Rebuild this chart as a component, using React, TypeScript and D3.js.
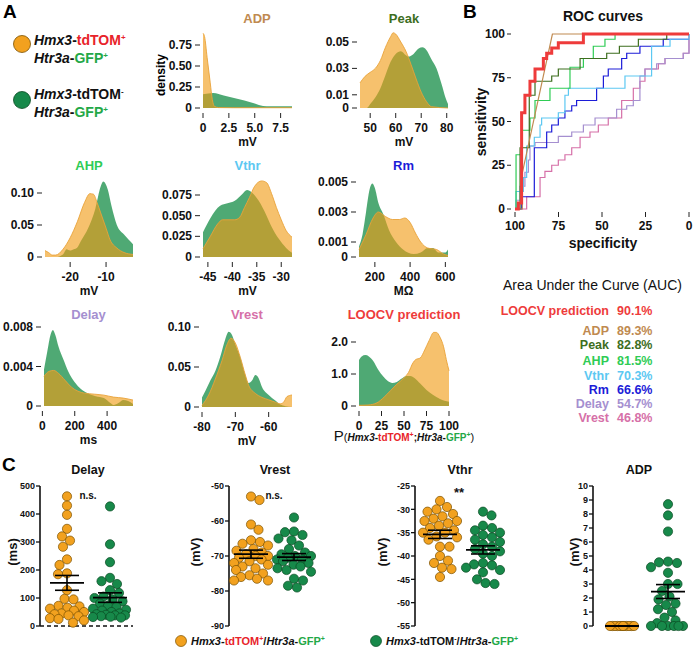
import React from 'react';
import * as d3 from 'd3';

const FONT = "'Liberation Sans', Arial, Helvetica, sans-serif";
const RED = '#e8232a';
const GFP = '#23a847';
const OR_FILL = 'rgb(240,155,20)';
const GR_FILL = 'rgb(40,150,85)';
const DOT_O = '#f2a11f';
const DOT_G = '#17894a';

// ---------- Density data (x grid, density) ----------
const adpOx = [0, 0.15, 0.4, 0.7, 0.9, 1.1, 1.5, 3, 8.6];
const adpOy = [0.89, 0.85, 0.6, 0.3, 0.1, 0.02, 0.005, 0.003, 0.003];
const adpGx = [0, 1, 2, 3, 4, 5, 5.8, 6.5, 8.6];
const adpGy = [0.165, 0.18, 0.15, 0.12, 0.09, 0.055, 0.025, 0.02, 0.02];

const peakOx = [46, 48, 50, 52, 54, 56, 58, 59, 60, 62, 64, 66, 68, 70, 72, 74, 80.5];
const peakOy = [0.019, 0.024, 0.027, 0.03, 0.036, 0.046, 0.054, 0.057, 0.056, 0.05, 0.043, 0.033, 0.022, 0.012, 0.005, 0.001, 0];
const peakGx = [46, 48.7, 50, 52, 54, 56, 58, 60, 62, 64, 65, 67, 69, 70.5, 72, 74, 76, 78, 79.5, 80.5];
const peakGy = [0, 0, 0.003, 0.008, 0.015, 0.025, 0.035, 0.041, 0.043, 0.04, 0.039, 0.041, 0.045, 0.046, 0.044, 0.037, 0.03, 0.018, 0.008, 0.003];

const ahpOx = [-27, -26, -25, -24, -22, -20, -18, -16, -14.5, -13.5, -12.5, -11.5, -10, -8.9, -7, -5, -2.5];
const ahpOy = [0.01, 0.007, 0.003, 0.003, 0.012, 0.03, 0.055, 0.085, 0.099, 0.098, 0.085, 0.069, 0.045, 0.027, 0.014, 0.007, 0.004];
const ahpGx = [-27, -24, -22, -21, -20, -19, -18, -17, -15, -13, -11.5, -10.8, -9.5, -8.5, -7, -5, -2.5];
const ahpGy = [0, 0, 0.004, 0.012, 0.01, 0.012, 0.015, 0.025, 0.045, 0.075, 0.11, 0.118, 0.105, 0.08, 0.05, 0.035, 0.02];

const vthrOx = [-46, -44.5, -43, -42, -39.5, -38.5, -37.5, -36.5, -35.5, -34, -33, -32, -31, -30, -29, -27.8];
const vthrOy = [0.01, 0.025, 0.04, 0.045, 0.045, 0.048, 0.06, 0.072, 0.085, 0.092, 0.09, 0.077, 0.06, 0.045, 0.032, 0.024];
const vthrGx = [-46, -44.5, -42.5, -41, -39.5, -38, -37, -36, -34.6, -33, -32, -30.5, -29, -27.8];
const vthrGy = [0.03, 0.047, 0.062, 0.065, 0.068, 0.076, 0.081, 0.078, 0.068, 0.05, 0.037, 0.022, 0.011, 0.005];

const rmOx = [110, 150, 190, 220, 260, 300, 340, 370, 400, 430, 460, 500, 550, 590, 615];
const rmOy = [0.0005, 0.0015, 0.0026, 0.003, 0.0027, 0.0025, 0.0025, 0.0026, 0.0023, 0.0016, 0.001, 0.0006, 0.0005, 0.0002, 0.0001];
const rmGx = [110, 130, 150, 170, 185, 200, 220, 250, 280, 320, 360, 420, 460, 500, 530, 560, 600, 615];
const rmGy = [0.0007, 0.0015, 0.003, 0.0045, 0.0049, 0.0046, 0.0036, 0.0028, 0.0018, 0.001, 0.0005, 0.0002, 0.0003, 0.0006, 0.0006, 0.0003, 0.0003, 0.0005];

const delOx = [10, 40, 70, 100, 140, 180, 220, 260, 320, 380, 440, 500, 560];
const delOy = [0.003, 0.0035, 0.0036, 0.0033, 0.0026, 0.0019, 0.0015, 0.0013, 0.0012, 0.0011, 0.0009, 0.0008, 0.0006];
const delGx = [10, 30, 50, 65, 80, 100, 130, 160, 200, 240, 280, 330, 380, 420, 440, 470, 500, 530, 560];
const delGy = [0.0037, 0.0055, 0.0072, 0.0077, 0.0072, 0.006, 0.0047, 0.0035, 0.0024, 0.0017, 0.0013, 0.001, 0.0008, 0.0003, 0.0001, 0.0003, 0.0006, 0.0005, 0.0002];

const vrOx = [-80, -78, -76, -74, -72.5, -71.3, -70, -68.5, -67, -66, -64, -62, -60, -58, -56.5, -55.5, -54.5, -53];
const vrOy = [0.002, 0.015, 0.035, 0.058, 0.078, 0.086, 0.08, 0.062, 0.04, 0.027, 0.017, 0.012, 0.009, 0.006, 0.004, 0.006, 0.013, 0.015];
const vrGx = [-80, -79, -77.5, -76, -74.5, -73, -72, -71, -70, -68.5, -67, -66, -65, -64, -63, -62, -60, -58, -56.5, -55, -53];
const vrGy = [0.012, 0.02, 0.033, 0.045, 0.063, 0.085, 0.094, 0.09, 0.078, 0.062, 0.04, 0.03, 0.033, 0.04, 0.036, 0.025, 0.015, 0.008, 0.003, 0.001, 0];

const lcOx = [0, 10, 20, 28, 35, 42, 50, 55, 60, 63, 68, 73, 78, 83, 86, 90, 94, 97, 100];
const lcOy = [0.02, 0.03, 0.1, 0.28, 0.48, 0.68, 0.88, 1.05, 1.35, 1.45, 1.5, 1.75, 2.05, 2.3, 2.3, 2.15, 1.85, 1.45, 1.1];
const lcGx = [0, 3, 7, 11, 16, 21, 27, 32, 37, 42, 47, 53, 57, 62, 68, 75, 82, 90, 100];
const lcGy = [1.44, 1.55, 1.59, 1.55, 1.4, 1.15, 0.92, 0.78, 0.72, 0.75, 0.85, 0.94, 0.94, 0.87, 0.7, 0.5, 0.35, 0.22, 0.13];

// ---------- ROC data (specificity, sensitivity) ----------
const rocLoocvSpec = [100, 98.1, 96.2, 94.3, 91.4, 88.5, 83.7, 81.8, 78.9, 75.1, 60.7, 0];
const rocLoocvSens = [0, 3.4, 55, 65, 73, 80, 86, 89, 92, 95, 100, 100];
const rocAdpSpec = [100, 95.8, 95.8, 78.5, 0];
const rocAdpSens = [0, 0, 20.6, 100, 100];
const rocPeakSpec = [100, 97.1, 91.8, 88.5, 78.9, 75.1, 62.6, 47.3, 40, 29.1, 12.8, 0];
const rocPeakSens = [0, 35, 65, 73, 76, 80, 86, 89, 93, 97, 100, 100];
const rocAhpSpec = [100, 99.4, 96.2, 91.4, 88.5, 79.9, 68.4, 60.7, 55, 48.3, 42.5, 0];
const rocAhpSens = [0, 31, 45, 52, 62, 69, 81, 86, 93, 97, 100, 100];
const rocVthrSpec = [100, 99.4, 95.2, 93.3, 88.9, 85.6, 84.7, 75.1, 71.3, 69.3, 36.8, 21.5, 10.9, 0];
const rocVthrSens = [0, 10, 18, 36, 41, 48, 52, 55, 65, 69, 76, 93, 97, 100];
const rocRmSpec = [100, 96.2, 88.9, 81.8, 78.9, 75.1, 71.3, 67.4, 64.6, 53.1, 49.2, 46.4, 38.7, 35.8, 28.2, 14.8, 0];
const rocRmSens = [0, 7, 35, 44, 48, 52, 56, 59, 62, 69, 76, 80, 86, 89, 93, 97, 97];
const rocDelaySpec = [100, 99.4, 97.1, 94.3, 92.3, 91.4, 88.5, 75.1, 67.4, 60.7, 54, 41.6, 35.8, 32, 28.2, 25.3, 18.6, 13.8, 3.3, 0];
const rocDelaySens = [0, 5, 13, 21, 28, 36, 38, 41.5, 44, 48, 52, 57, 59, 62, 76, 80, 83, 86, 89, 100];
const rocVrestSpec = [100, 93.3, 85.6, 82.8, 78.9, 75.1, 71.3, 67.4, 62.6, 56.9, 52.1, 46.4, 38.7, 32, 28.2, 25.3, 17.6, 13.8, 3.3, 0];
const rocVrestSens = [0, 7, 18, 21.5, 25, 28, 31, 35, 41, 44, 48, 52, 62, 69, 73, 80, 83, 86, 89, 100];
const rocTicks = [0, 25, 50, 75, 100];

// ---------- AUC ----------
const aucLabels = ['LOOCV prediction', 'ADP', 'Peak', 'AHP', 'Vthr', 'Rm', 'Delay', 'Vrest'];
const aucValues = ['90.1%', '89.3%', '82.8%', '81.5%', '70.3%', '66.6%', '54.7%', '46.8%'];

// ---------- Scatter data ----------
const delayOrange = [463, 430, 397, 347, 320, 305, 283, 238, 218, 188, 185, 128, 97, 95, 72, 70, 65, 62, 55, 50, 45, 42, 38, 35, 28, 25, 20, 12];
const delayGreen = [427, 292, 228, 172, 160, 150, 128, 118, 105, 100, 95, 88, 80, 72, 68, 62, 58, 55, 50, 45, 42, 40, 38, 35, 32, 30, 33, 38];
const vrestOrange = [-53, -54, -61, -62.5, -65.5, -66, -66.5, -67, -68, -68.5, -69, -69.5, -70, -70, -70.5, -71, -71.5, -72, -72.5, -73, -73.5, -74, -75, -75.5, -76, -76.5, -77, -77];
const vrestGreen = [-59, -63, -63.2, -64, -65, -65.5, -69, -69.5, -70, -70, -70.5, -71, -71, -71.5, -72, -72.5, -73, -73.5, -74, -74.5, -76.5, -77, -78.5, -79, -67, -68];
const vthrOrange = [-28.2, -29.5, -30, -30.5, -31, -31.5, -32, -32.5, -32.5, -33, -33.5, -34, -34.5, -35, -35, -35.8, -36, -36.5, -38, -38, -40, -41, -41.5, -42.5, -42.8, -44.5];
const vthrGreen = [-30.5, -31.3, -33.5, -34, -34.5, -35, -35.5, -36, -36.5, -37, -37.5, -38, -38.5, -39, -39.5, -40, -41.5, -41.8, -42, -42.5, -43, -43.5, -45, -45.8, -46];
const adpOrange = [0, 0, 0, 0, 0, 0, 0, 0, 0, 0, 0, 0];
const adpGreen = [8.7, 7.9, 6.75, 4.6, 4.55, 4.5, 4.2, 3.8, 3.0, 3.0, 2.5, 2.1, 1.9, 1.6, 1.5, 1.2, 1.0, 0.6, 0.4, 0.2, 0, 0, 0, 0, 0, 0];

const delayTicks = [0, 100, 200, 300, 400, 500];
const vrestTicks = [-90, -80, -70, -60, -50];
const vthrTicks = [-55, -50, -45, -40, -35, -30, -25];
const adpTicks = [0, 1, 2, 3, 4, 5, 6, 7, 8, 9, 10];

// ---------- helpers ----------
const Sup = ({ children, fill, size = 8, up = 5 }: any) => (
  <tspan fill={fill} fontSize={size} baselineShift={up}>{children}</tspan>
);

function DensityPanel(p: any) {
  const x = d3.scaleLinear().domain(p.xDomain).range(p.xRange);
  const y = d3.scaleLinear().domain(p.yDomain).range(p.yRange);
  const base = p.yRange[0];
  const area = d3.area<[number, number]>().x(d => x(d[0])).y0(base).y1(d => y(d[1])).curve(d3.curveMonotoneX);
  const line = d3.line<[number, number]>().x(d => x(d[0])).y(d => y(d[1])).curve(d3.curveMonotoneX);
  const g = d3.zip(p.gX, p.gY) as [number, number][];
  const o = d3.zip(p.oX, p.oY) as [number, number][];
  const x0 = p.xRange[0];
  return (
    <g fontFamily={FONT} fontWeight="bold">
      <text x={p.titleX ?? (p.xRange[0] + p.xRange[1]) / 2} y={p.titleY} textAnchor="middle" fontSize={13} fill={p.titleColor}>{p.title}</text>
      <path d={area(g) || ''} fill={GR_FILL} fillOpacity={0.82} />
      <path d={area(o) || ''} fill={OR_FILL} fillOpacity={0.62} />
      <path d={line(o) || ''} fill="none" stroke="#e9a33a" strokeWidth={0.9} />
      {p.yTicks.map((t: number, i: number) => (
        <g key={'y' + i}>
          <line x1={x0 - 8} x2={x0 - 3} y1={y(t)} y2={y(t)} stroke="#222" strokeWidth={1} />
          <text x={x0 - 11} y={y(t) + 4} textAnchor="end" fontSize={12} fill="#111">{p.yTickLabels[i]}</text>
        </g>
      ))}
      {p.xTicks.map((t: number, i: number) => (
        <g key={'x' + i}>
          <line x1={x(t)} x2={x(t)} y1={base + 5} y2={base + 10} stroke="#222" strokeWidth={1} />
          <text x={x(t)} y={base + 24} textAnchor="middle" fontSize={12} fill="#111">{p.xTickLabels ? p.xTickLabels[i] : String(t)}</text>
        </g>
      ))}
      {p.xLabel !== undefined && typeof p.xLabel === 'string' ? (
        <text x={(p.xRange[0] + p.xRange[1]) / 2} y={base + 38} textAnchor="middle" fontSize={12} fill="#111">{p.xLabel}</text>
      ) : p.xLabel}
    </g>
  );
}

function swarm(values: number[], y: (v: number) => number, cx: number, r: number, maxW: number) {
  const pts = values.map((v, i) => ({ v, i, y: y(v) })).sort((a, b) => a.y - b.y);
  const placed: { x: number; y: number; v: number }[] = [];
  const minD = 2 * r * 0.98;
  pts.forEach((p, idx) => {
    let chosen: number | null = null;
    let bestOff = 0, bestScore = -1;
    for (let k = 0; k <= maxW * 2; k++) {
      const offs = k === 0 ? [0] : (idx % 2 ? [k / 2, -k / 2] : [-k / 2, k / 2]);
      for (const off of offs) {
        let md = Infinity;
        for (const q of placed) {
          const d = Math.hypot(q.x - (cx + off), q.y - p.y);
          if (d < md) md = d;
        }
        if (md >= minD) { chosen = off; break; }
        if (md > bestScore) { bestScore = md; bestOff = off; }
      }
      if (chosen !== null) break;
    }
    placed.push({ x: cx + (chosen !== null ? chosen : bestOff), y: p.y, v: p.v });
  });
  return placed;
}

function ScatterPanel(p: any) {
  const y = d3.scaleLinear().domain(p.yDomain).range([626, 486]);
  const r = 4.6;
  const groups = [
    { vals: p.oVals, cx: p.oCx, fill: DOT_O, stroke: '#7a5000', w: p.oW ?? 17 },
    { vals: p.gVals, cx: p.gCx, fill: DOT_G, stroke: '#0a4a22', w: 17 },
  ];
  return (
    <g fontFamily={FONT} fontWeight="bold">
      <text x={p.titleX} y={474} textAnchor="middle" fontSize={12.5} fill="#111">{p.title}</text>
      <line x1={p.axisX} x2={p.axisX} y1={y(p.yDomain[1])} y2={y(p.yDomain[0])} stroke="#111" strokeWidth={1.6} />
      {p.ticks.map((t: number) => (
        <g key={t}>
          <line x1={p.axisX - 4} x2={p.axisX} y1={y(t)} y2={y(t)} stroke="#111" strokeWidth={1.3} />
          <text x={p.axisX - 5} y={y(t) + 3.2} textAnchor="end" fontSize={9} fill="#111">{t}</text>
        </g>
      ))}
      <text transform={`translate(${p.yLabelX},552) rotate(-90)`} textAnchor="middle" fontSize={13} fill="#111">{p.yLabel}</text>
      {p.dashed && (
        <line x1={p.axisX} x2={p.axisX + 93} y1={y(0)} y2={y(0)} stroke="#111" strokeWidth={1.3} strokeDasharray="4,3" />
      )}
      {p.annot && <text x={p.annotX} y={p.annotY} textAnchor="middle" fontSize={p.annotSize || 10} fill="#111">{p.annot}</text>}
      {groups.map((gr, gi) => {
        const pts = swarm(gr.vals, y, gr.cx, r, gr.w);
        const mean = d3.mean(gr.vals as number[]) as number;
        const sd = (d3.deviation(gr.vals as number[]) || 0);
        const se = sd / Math.sqrt(gr.vals.length);
        return (
          <g key={gi}>
            {pts.map((q, i) => (
              <circle key={i} cx={q.x} cy={q.y} r={r} fill={gr.fill} stroke={gr.stroke} strokeWidth={0.7} />
            ))}
            <line x1={gr.cx - 17} x2={gr.cx + 17} y1={y(mean)} y2={y(mean)} stroke="#000" strokeWidth={1.8} />
            <line x1={gr.cx} x2={gr.cx} y1={y(mean + se)} y2={y(mean - se)} stroke="#000" strokeWidth={1.6} />
            <line x1={gr.cx - 12} x2={gr.cx + 12} y1={y(mean + se)} y2={y(mean + se)} stroke="#000" strokeWidth={1.6} />
            <line x1={gr.cx - 12} x2={gr.cx + 12} y1={y(mean - se)} y2={y(mean - se)} stroke="#000" strokeWidth={1.6} />
          </g>
        );
      })}
    </g>
  );
}

function ROC() {
  const x = d3.scaleLinear().domain([100, 0]).range([515, 689]);
  const y = d3.scaleLinear().domain([0, 100]).range([209, 34]);
  const step = d3.line<[number, number]>().x(d => x(d[0])).y(d => y(d[1])).curve(d3.curveStepAfter);
  const lin = d3.line<[number, number]>().x(d => x(d[0])).y(d => y(d[1]));
  const curves = [
    { s: rocVrestSpec, e: rocVrestSens, c: '#d670a8', w: 1.2, f: step },
    { s: rocDelaySpec, e: rocDelaySens, c: '#a58fd0', w: 1.2, f: step },
    { s: rocRmSpec, e: rocRmSens, c: '#1c1cd8', w: 1.2, f: step },
    { s: rocVthrSpec, e: rocVthrSens, c: '#5cc8f2', w: 1.2, f: step },
    { s: rocAhpSpec, e: rocAhpSens, c: '#2fcc55', w: 1.2, f: step },
    { s: rocPeakSpec, e: rocPeakSens, c: '#3d6e1e', w: 1.2, f: step },
    { s: rocAdpSpec, e: rocAdpSens, c: '#c08a50', w: 1.2, f: lin },
    { s: rocLoocvSpec, e: rocLoocvSens, c: '#ee3b3b', w: 3, f: step },
  ];
  return (
    <g fontFamily={FONT} fontWeight="bold">
      <text x={603} y={21} textAnchor="middle" fontSize={14} fill="#111">ROC curves</text>
      {curves.map((c, i) => (
        <path key={i} d={c.f(d3.zip(c.s, c.e) as [number, number][]) || ''} fill="none" stroke={c.c} strokeWidth={c.w} />
      ))}
      {rocTicks.map(t => (
        <g key={'y' + t}>
          <line x1={507} x2={511} y1={y(t)} y2={y(t)} stroke="#222" />
          <text x={505} y={y(t) + 4} textAnchor="end" fontSize={12} fill="#111">{t}</text>
        </g>
      ))}
      {rocTicks.map(t => (
        <g key={'x' + t}>
          <line x1={x(t)} x2={x(t)} y1={212} y2={217} stroke="#222" />
          <text x={x(t)} y={230} textAnchor="middle" fontSize={12} fill="#111">{t}</text>
        </g>
      ))}
      <text transform="translate(486,122) rotate(-90)" textAnchor="middle" fontSize={14} fill="#111">sensitivity</text>
      <text x={603} y={248} textAnchor="middle" fontSize={14} fill="#111">specificity</text>
    </g>
  );
}

const aucColors = ['#ee3b3b', '#c08a50', '#3d6e1e', '#2fcc55', '#5cc8f2', '#1c1cd8', '#a58fd0', '#d670a8'];
const aucRowY = [315, 335, 349, 365, 380, 394, 408, 422];

export default function App() {
  return (
    <svg width={693} height={651} viewBox="0 0 693 651" style={{ position: 'absolute', left: 0, top: 0, background: '#fff' }} fontFamily={FONT}>
      <rect width={693} height={651} fill="#fff" />
      {/* panel letters */}
      <text x={3} y={18} fontSize={19} fontWeight="bold">A</text>
      <text x={463} y={18} fontSize={19} fontWeight="bold">B</text>
      <text x={2} y={471} fontSize={19} fontWeight="bold">C</text>

      {/* top-left legend */}
      <circle cx={22} cy={44} r={8.5} fill={DOT_O} stroke="#7a5000" strokeWidth={0.8} />
      <circle cx={22} cy={100} r={8.5} fill={DOT_G} stroke="#0a4a22" strokeWidth={0.8} />
      <g fontSize={14} fontWeight="bold" fill="#111">
        <text x={34} y={45}>
          <tspan fontStyle="italic">Hmx3</tspan><tspan>-</tspan><tspan fill={RED}>tdTOM</tspan><Sup fill={RED}>+</Sup>
        </text>
        <text x={34} y={63}>
          <tspan fontStyle="italic">Htr3a</tspan><tspan>-</tspan><tspan fill={GFP}>GFP</tspan><Sup fill={GFP}>+</Sup>
        </text>
        <text x={34} y={99}>
          <tspan fontStyle="italic">Hmx3</tspan><tspan>-tdTOM</tspan><Sup fill="#111">-</Sup>
        </text>
        <text x={34} y={117}>
          <tspan fontStyle="italic">Htr3a</tspan><tspan>-</tspan><tspan fill={GFP}>GFP</tspan><Sup fill={GFP}>+</Sup>
        </text>
      </g>

      {/* density panels */}
      <DensityPanel title="ADP" titleColor="#c08a50" titleX={257} titleY={23}
        xDomain={[0, 8.6]} xRange={[203, 292]} yDomain={[0, 1]} yRange={[108, 24]}
        xTicks={[0, 2.5, 5, 7.5]} xTickLabels={['0', '2.5', '5.0', '7.5']}
        yTicks={[0, 0.25, 0.5, 0.75]} yTickLabels={['0', '0.25', '0.50', '0.75']}
        oX={adpOx} oY={adpOy} gX={adpGx} gY={adpGy} xLabel="mV" />
      <text transform="translate(165,75) rotate(-90)" textAnchor="middle" fontSize={12} fontWeight="bold" fontFamily={FONT}>density</text>
      <DensityPanel title="Peak" titleColor="#3d6e1e" titleY={23}
        xDomain={[46, 80.5]} xRange={[360, 448]} yDomain={[0, 0.05]} yRange={[108, 42]}
        xTicks={[50, 60, 70, 80]} yTicks={[0, 0.01, 0.03, 0.05]} yTickLabels={['0', '0.01', '0.03', '0.05']}
        oX={peakOx} oY={peakOy} gX={peakGx} gY={peakGy} xLabel="mV" />

      <DensityPanel title="AHP" titleColor="#2fcc55" titleY={170}
        xDomain={[-27, -2.5]} xRange={[45, 133]} yDomain={[0, 0.1]} yRange={[257, 193]}
        xTicks={[-20, -10]} yTicks={[0, 0.05, 0.1]} yTickLabels={['0', '0.05', '0.10']}
        oX={ahpOx} oY={ahpOy} gX={ahpGx} gY={ahpGy} xLabel="mV" />
      <DensityPanel title="Vthr" titleColor="#5cc8f2" titleY={170}
        xDomain={[-46, -27.8]} xRange={[203, 292]} yDomain={[0, 0.075]} yRange={[257, 195]}
        xTicks={[-45, -40, -35, -30]} yTicks={[0, 0.025, 0.05, 0.075]} yTickLabels={['0', '0.025', '0.050', '0.075']}
        oX={vthrOx} oY={vthrOy} gX={vthrGx} gY={vthrGy} xLabel="mV" />
      <DensityPanel title="Rm" titleColor="#1c1cd8" titleY={170}
        xDomain={[110, 615]} xRange={[359, 448]} yDomain={[0, 0.005]} yRange={[257, 182]}
        xTicks={[200, 400, 600]} yTicks={[0, 0.001, 0.003, 0.005]} yTickLabels={['0', '0.001', '0.003', '0.005']}
        oX={rmOx} oY={rmOy} gX={rmGx} gY={rmGy} xLabel="MΩ" />

      <DensityPanel title="Delay" titleColor="#a58fd0" titleY={319}
        xDomain={[10, 560]} xRange={[44, 133]} yDomain={[0, 0.008]} yRange={[406, 327]}
        xTicks={[0, 200, 400]} yTicks={[0, 0.004, 0.008]} yTickLabels={['0', '0.004', '0.008']}
        oX={delOx} oY={delOy} gX={delGx} gY={delGy} xLabel="ms" />
      <DensityPanel title="Vrest" titleColor="#d670a8" titleY={319}
        xDomain={[-80, -53]} xRange={[202, 292]} yDomain={[0, 0.1]} yRange={[407, 327]}
        xTicks={[-80, -70, -60]} yTicks={[0, 0.05, 0.1]} yTickLabels={['0', '0.05', '0.10']}
        oX={vrOx} oY={vrOy} gX={vrGx} gY={vrGy} xLabel="mV" />
      <DensityPanel title="LOOCV prediction" titleColor="#ee3b3b" titleY={319}
        xDomain={[0, 100]} xRange={[359, 449]} yDomain={[0, 2]} yRange={[406, 342]}
        xTicks={[0, 25, 50, 75, 100]} yTicks={[0, 1, 2]} yTickLabels={['0', '1.0', '2.0']}
        oX={lcOx} oY={lcOy} gX={lcGx} gY={lcGy}
        xLabel={
          <text x={404} y={441} textAnchor="middle" fontWeight="bold" fontSize={10} fill="#111">
            <tspan fontSize={15} fontWeight="normal">P</tspan>
            <tspan fontSize={11} fontWeight="normal">(</tspan>
            <tspan fontStyle="italic">Hmx3</tspan><tspan>-</tspan><tspan fill={RED}>tdTOM</tspan><Sup fill={RED} size={7} up={4}>+</Sup>
            <tspan>;</tspan>
            <tspan fontStyle="italic">Htr3a</tspan><tspan>-</tspan><tspan fill={GFP}>GFP</tspan><Sup fill={GFP} size={7} up={4}>+</Sup>
            <tspan fontSize={11} fontWeight="normal">)</tspan>
          </text>
        } />

      {/* ROC */}
      <ROC />

      {/* AUC table */}
      <text x={503} y={290} fontSize={14} fill="#111">Area Under the Curve (AUC)</text>
      <g fontWeight="bold" fontSize={12.5}>
        {aucLabels.map((l, i) => (
          <g key={l}>
            <text x={609} y={aucRowY[i]} textAnchor="end" fill={aucColors[i]}>{l}</text>
            <text x={617} y={aucRowY[i]} fill={aucColors[i]}>{aucValues[i]}</text>
          </g>
        ))}
      </g>

      {/* Scatter panels */}
      <ScatterPanel title="Delay" titleX={88} axisX={40} yDomain={[0, 500]} ticks={delayTicks}
        yLabel="(ms)" yLabelX={17} oCx={67} gCx={110} oVals={delayOrange} gVals={delayGreen}
        dashed annot="n.s." annotX={88} annotY={499} />
      <ScatterPanel title="Vrest" titleX={275} axisX={229} yDomain={[-90, -50]} ticks={vrestTicks}
        yLabel="(mV)" yLabelX={200} oCx={251} gCx={294} oVals={vrestOrange} gVals={vrestGreen}
        annot="n.s." annotX={274} annotY={499} />
      <ScatterPanel title="Vthr" titleX={460} axisX={415} yDomain={[-55, -25]} ticks={vthrTicks}
        yLabel="(mV)" yLabelX={387} oCx={440} gCx={483} oVals={vthrOrange} gVals={vthrGreen}
        annot="**" annotX={459} annotY={497} annotSize={13} />
      <ScatterPanel title="ADP" titleX={639} axisX={593} yDomain={[0, 10]} ticks={adpTicks}
        yLabel="(mV)" yLabelX={579} oCx={622} gCx={668} oVals={adpOrange} gVals={adpGreen} oW={12} />

      {/* bottom legend */}
      <circle cx={181} cy={641} r={5.5} fill={DOT_O} stroke="#7a5000" strokeWidth={0.7} />
      <circle cx={376} cy={641} r={5.5} fill={DOT_G} stroke="#0a4a22" strokeWidth={0.7} />
      <g fontSize={11} fontWeight="bold" fill="#111">
        <text x={191} y={645}>
          <tspan fontStyle="italic">Hmx3</tspan><tspan>-</tspan><tspan fill={RED}>tdTOM</tspan><Sup fill={RED} size={7} up={4}>+</Sup>
          <tspan>/</tspan><tspan fontStyle="italic">Htr3a</tspan><tspan>-</tspan><tspan fill={GFP}>GFP</tspan><Sup fill={GFP} size={7} up={4}>+</Sup>
        </text>
        <text x={386} y={645}>
          <tspan fontStyle="italic">Hmx3</tspan><tspan>-tdTOM</tspan><Sup fill="#111" size={7} up={4}>-</Sup>
          <tspan>/</tspan><tspan fontStyle="italic">Htr3a</tspan><tspan>-</tspan><tspan fill={GFP}>GFP</tspan><Sup fill={GFP} size={7} up={4}>+</Sup>
        </text>
      </g>
    </svg>
  );
}
